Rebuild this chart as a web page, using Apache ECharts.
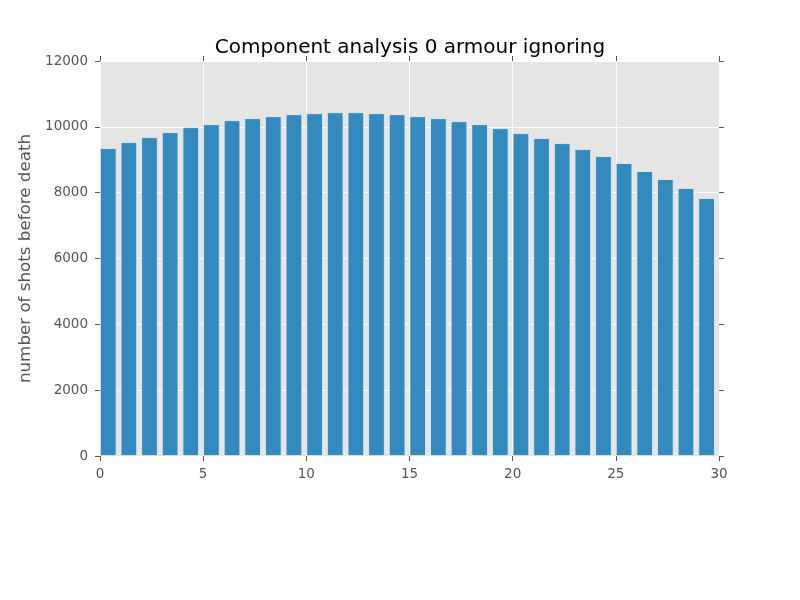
<!DOCTYPE html>
<html>
<head>
<meta charset="utf-8">
<script src="https://cdn.jsdelivr.net/npm/echarts@6/dist/echarts.min.js"></script>
<style>html,body{margin:0;padding:0;background:#fff}#c{width:800px;height:600px}</style>
</head>
<body>
<div id="c"></div>
<script>
var titleText = "Component analysis 0 armour ignoring";
var yLabel = "number of shots before death";
var positions = [0,1,2,3,4,5,6,7,8,9,10,11,12,13,14,15,16,17,18,19,20,21,22,23,24,25,26,27,28,29];
var shots = [9352,9533,9685,9836,9988,10079,10200,10261,10321,10382,10412,10442,10442,10412,10382,10321,10261,10170,10079,9958,9806,9655,9503,9321,9109,8897,8655,8412,8140,7836];
var barWidthFrac = 0.8;
var xTicks = [0,5,10,15,20,25,30];
var yTicks = [0,2000,4000,6000,8000,10000,12000];

var chart = echarts.init(document.getElementById('c'), null, {renderer:'canvas'});
var font = 'DejaVu Sans';
var tickStyle = {show:true, inside:false, length:5, lineStyle:{color:'#555555', width:1}};
var hiddenLine = {show:false, onZero:false};
var data = positions.map(function(p,i){ return [p + barWidthFrac/2, shots[i]]; });
var plain = function(v){ return String(v); };
chart.setOption({
  backgroundColor:'#ffffff',
  animation:false,
  title:{text:titleText, left:405, textAlign:'center', top:33,
         textStyle:{fontFamily:font, fontSize:20, fontWeight:'normal', color:'#000000'}},
  grid:{left:100, right:81, top:61, bottom:144, show:true, backgroundColor:'#E5E5E5', borderWidth:0},
  xAxis:[{type:'value', position:'bottom', min:xTicks[0], max:xTicks[xTicks.length-1], interval:5,
          axisLine:hiddenLine, axisTick:tickStyle,
          axisLabel:{fontFamily:font, fontSize:13.5, color:'#555555', margin:11, formatter:plain},
          splitLine:{show:true, lineStyle:{color:'#ffffff', width:1}}},
         {type:'value', position:'top', min:xTicks[0], max:xTicks[xTicks.length-1], interval:5,
          axisLine:hiddenLine, axisTick:tickStyle, axisLabel:{show:false}, splitLine:{show:false}}],
  yAxis:[{type:'value', position:'left', min:yTicks[0], max:yTicks[yTicks.length-1], interval:2000,
          name:yLabel, nameLocation:'middle', nameGap:58,
          nameTextStyle:{fontFamily:font, fontSize:16.7, color:'#555555'},
          axisLine:hiddenLine, axisTick:tickStyle,
          axisLabel:{fontFamily:font, fontSize:13.5, color:'#555555', margin:12, formatter:plain},
          splitLine:{show:true, lineStyle:{color:'#ffffff', width:1}}},
         {type:'value', position:'right', min:yTicks[0], max:yTicks[yTicks.length-1], interval:2000,
          axisLine:hiddenLine, axisTick:tickStyle, axisLabel:{show:false}, splitLine:{show:false}}],
  series:[{type:'bar', xAxisIndex:0, yAxisIndex:0, data:data, barWidth:16.5,
           itemStyle:{color:'#348ABD', borderColor:'#EEEEEE', borderWidth:0.8}}]
});
</script>
</body>
</html>
